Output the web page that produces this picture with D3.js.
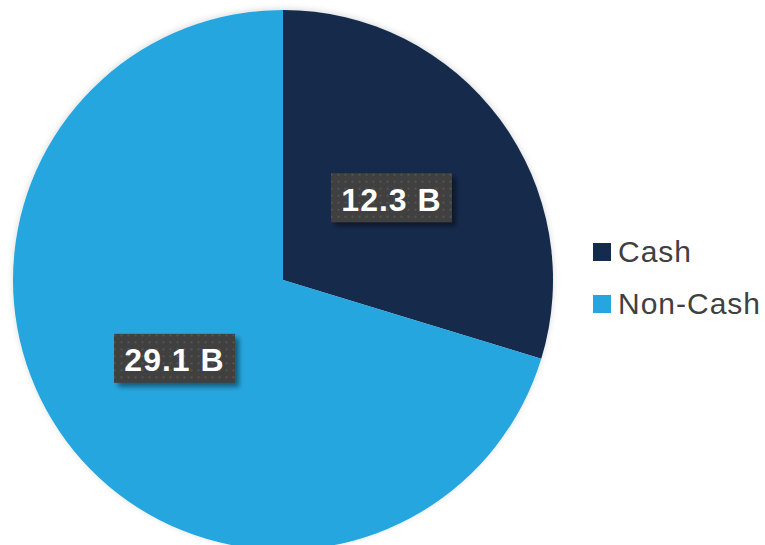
<!DOCTYPE html>
<html>
<head>
<meta charset="utf-8">
<script src="https://cdn.jsdelivr.net/npm/d3@7"></script>
<style>
  html, body { margin: 0; padding: 0; background: #ffffff; }
  svg { display: block; }
</style>
</head>
<body>
<svg id="chart" width="765" height="545"></svg>
<script>
// Payment split, in billions
const categories = ["Cash", "Non-Cash"];
const values = [12.3, 29.1];
const valueLabels = ["12.3 B", "29.1 B"];
const colors = ["#132b4c", "#25a6df"];

const svg = d3.select("#chart");
const cx = 283, cy = 280, radius = 270;

const defs = svg.append("defs");

// Dotted texture for the value boxes
const pat = defs.append("pattern")
  .attr("id", "dots")
  .attr("width", 7).attr("height", 7)
  .attr("patternUnits", "userSpaceOnUse");
pat.append("rect").attr("width", 7).attr("height", 7).attr("fill", "#3f3f3f");
pat.append("rect").attr("x", 2).attr("y", 2).attr("width", 2).attr("height", 2).attr("fill", "#555555");

const shadow = defs.append("filter").attr("id", "boxShadow")
  .attr("x", "-20%").attr("y", "-20%").attr("width", "150%").attr("height", "160%");
shadow.append("feDropShadow")
  .attr("dx", 4).attr("dy", 4).attr("stdDeviation", 2.5)
  .attr("flood-color", "#000").attr("flood-opacity", 0.45);

const pieShadow = defs.append("filter").attr("id", "pieShadow")
  .attr("x", "-10%").attr("y", "-10%").attr("width", "120%").attr("height", "120%");
pieShadow.append("feDropShadow")
  .attr("dx", 0).attr("dy", -1).attr("stdDeviation", 3)
  .attr("flood-color", "#000").attr("flood-opacity", 0.15);

const pie = d3.pie().sort(null).value(d => d)
  .startAngle(0).endAngle(2 * Math.PI);
const arcs = pie(values);
const arc = d3.arc().innerRadius(0).outerRadius(radius);

const g = svg.append("g").attr("transform", `translate(${cx},${cy})`);

g.append("g").attr("filter", "url(#pieShadow)")
  .selectAll("path")
  .data(arcs)
  .join("path")
  .attr("d", arc)
  .attr("fill", (d, i) => colors[i]);

// Value labels at slice centroids
const labels = g.selectAll("g.lbl")
  .data(arcs)
  .join("g")
  .attr("class", "lbl")
  .attr("transform", d => `translate(${arc.centroid(d)})`);

labels.each(function(d, i) {
  const lg = d3.select(this);
  const bw = 121, bh = 49;
  lg.append("rect")
    .attr("x", -bw / 2).attr("y", -bh / 2 - 2)
    .attr("width", bw).attr("height", bh)
    .attr("fill", "url(#dots)")
    .attr("filter", "url(#boxShadow)");
  lg.append("text")
    .attr("text-anchor", "middle")
    .attr("y", 11)
    .attr("fill", "#ffffff")
    .attr("font-family", "Liberation Sans, Arial, sans-serif")
    .attr("font-weight", "bold")
    .attr("font-size", 32)
    .attr("letter-spacing", 1)
    .text(valueLabels[i]);
});

// Legend
const legend = svg.append("g").attr("transform", "translate(593,243)");
const items = legend.selectAll("g")
  .data(categories)
  .join("g")
  .attr("transform", (d, i) => `translate(0,${i * 52})`);
items.append("rect")
  .attr("width", 18).attr("height", 18)
  .attr("fill", (d, i) => colors[i]);
items.append("text")
  .attr("x", 25).attr("y", 19)
  .attr("fill", "#404040")
  .attr("font-family", "Liberation Sans, Arial, sans-serif")
  .attr("font-size", 30)
  .attr("letter-spacing", 1)
  .text(d => d);
</script>
</body>
</html>
